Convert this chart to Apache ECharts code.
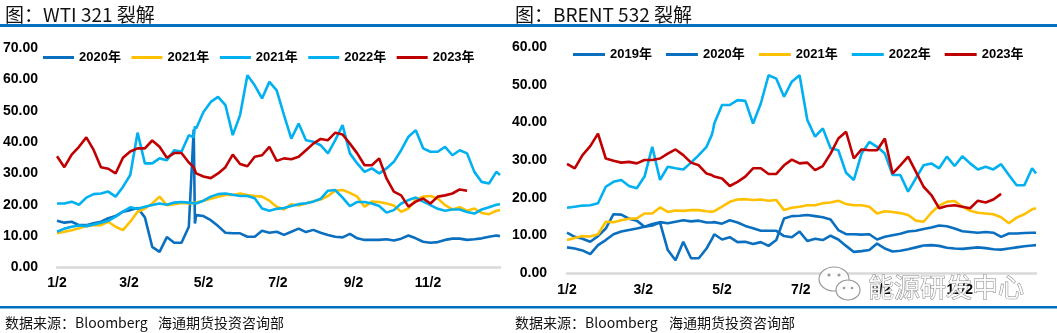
<!DOCTYPE html>
<html><head><meta charset="utf-8">
<script src="https://cdn.jsdelivr.net/npm/echarts@6/dist/echarts.min.js"></script>
<style>html,body{margin:0;padding:0;background:#fff}#c{width:1057px;height:333px}</style>
</head><body><div id="c"></div>
<script>
// day of year (Jan 1 = 0)
const days = [1,7,13,19,25,31,37,43,49,55,61,67,73,79,85,91,97,103,109,113,114,
  115,121,127,133,139,145,151,157,163,169,175,181,187,193,199,205,211,217,223,229,235,
  241,247,253,259,265,271,277,283,289,295,301,307,313,319,325,331,337,343,349,355,361,364];
const tickDays = [1,60,121,182,244,305];
const tickLabels = ['1/2','3/2','5/2','7/2','9/2','11/2'];

// WTI 321 crack
const wti2020 = [14.9,14.3,14.6,13.5,13.5,14.1,14.6,15.7,16.4,17.8,18.3,19,16,6.6,5,9.7,7.9,7.9,13,44,14,
  16.7,16.4,15.1,13.2,11.1,10.9,10.9,9.8,9.8,11.7,11.1,11.4,10.4,11.4,12.4,11.3,12,11.1,10.4,9.8,9.6,10.7,9.3,8.8,8.8,8.8,9,8.6,9.2,10.2,9.3,8.2,7.9,8.1,8.8,9.2,9.2,8.8,9,9.3,9.8,10.2,10];
const wti2021 = [10.9,11.4,11.9,12.5,13.2,13.5,13.5,14.6,13,11.9,14.6,17.8,18.8,20.4,22.6,19.9,20.2,20.6,20.4,20.6,20.6,
  20.7,21.3,21.9,22.6,23.1,23.1,23.6,23.1,22.8,22.6,21.3,19.4,18.5,20.2,19.8,20.4,21.1,21.7,22.8,24.5,24.7,23.8,22.6,19.4,21,20.9,20.4,19.8,17.8,18.8,21.7,22.6,22.8,22,19.9,18.5,19.2,18.1,18.8,17.4,17,18.1,18.3];
const wti2021b = [11.4,12.4,13,13.4,13.2,13.7,14.3,14.9,16.2,17.8,19.2,18.7,19.4,19.9,20.4,20,20.7,20.9,20.7,20.5,20.5,
  20.4,21.3,22.6,23.4,23.6,23.2,22.8,22.8,22.1,18.8,18.1,18.7,19,19.6,20.2,20.5,21,21.9,24.5,24.7,22.3,19.6,20.9,20.9,20.4,19.6,17.5,18.3,20.4,21.5,22.3,21,19.9,18.7,18.1,18.5,18.5,17.7,17.2,18.5,19.2,20,20.2];
const wti2022 = [20.4,20.4,21,20,22.3,23.4,23.6,24.2,22.6,25.7,29.5,43,33.2,33.2,34.8,34.2,37.4,36.9,42.2,41.5,45,
  44.3,49.6,52.8,54.4,51.8,42.2,48.6,61.3,58.1,53.9,59.2,56.5,48.6,41.1,45.9,40.6,40.1,39,36.4,40.6,45.4,36.4,33.2,30.5,31.6,30,31.6,33.7,37.4,41.7,43.8,38,36.9,36.9,38.5,35.8,37.4,36.4,30.5,27.3,26.8,30.5,29.5];
const wti2023 = [35.5,32,36,38.5,41.5,37.5,32,31.5,30,35,37,38,38,40.5,38.5,35,36.5,36.5,33.5,32,31.5,
  30,29,28.5,30,32,36,33,32.3,35.3,35.8,38.5,34,34.8,34.5,35.3,37.4,39.5,41,40.6,43,42.4,39.5,36.4,32.6,32.6,34.8,28.4,24.2,23,19.4,21,22,20.4,22.6,23,23.6,24.9,24.5,null,null,null,null,null];

// BRENT 532 crack
const brent2019 = [6.8,6.5,6,5,7.4,8.75,10.3,11,11.4,11.8,12.3,13,13.5,13.2,13.6,14,13.7,13.9,13.4,13.4,13.4,
  13.5,13.1,14,13.4,12.5,11.9,11.2,11.2,11.2,9.8,9.5,11,8.5,9.1,8.75,9.9,8.9,7.2,5.6,5.8,6.1,7.8,6.5,5.7,5.9,6.3,6.8,7.3,7.4,7.2,6.7,6.5,6.4,6.6,6.8,6.6,6.3,6.2,6.5,6.8,7.1,7.3,7.4];
const brent2020 = [10.7,9.6,9.1,8.3,9.8,11.8,15.6,15.5,14.4,13.9,12.3,12.6,13.4,6.1,3.4,8.3,3.9,3.9,6.5,8.9,9.6,
  10.3,8.9,9.5,8.2,8.3,7.7,8.2,7.2,8.75,14.5,15.1,15.2,15.4,15.1,14.8,14.2,11.4,10.3,10.3,10.2,10.3,8.9,9.6,10,10.4,11,11.2,11.7,12.1,12.6,12.4,11.8,11.1,10.9,10.7,10.9,10.7,9.6,10.5,10.5,10.6,10.7,10.7];
const brent2021 = [8.75,9.3,9.8,9.7,10.3,13.6,13.5,14,14.4,14.5,15.8,15.8,17.4,16.2,16.6,16.5,16.7,16.7,16.4,16.3,16.3,
  16.4,17.6,18.9,19.5,19.6,19.4,19.5,19.2,19.4,16.7,17.3,17.6,18,18,18.5,18.7,19.2,18.3,18,18,17.6,15.8,16.4,16.2,15.9,15.4,13.9,13.6,16,17.9,18.9,19.1,17.6,16.5,16,15.8,15.6,14.8,13.2,14.7,15.6,16.9,17.2];
const brent2022 = [17.3,17.6,17.9,18,18.5,22.9,24.2,24.7,23.1,22.5,25.6,33.5,24.7,28.2,27.8,27.5,29.3,31.3,33.5,36.6,37.9,
  39.7,44.6,44.6,45.9,45.7,39.7,45,52.5,51.6,46.8,50.8,52.5,40.6,36.2,38.4,33.1,32.6,26.6,24.7,31.7,34.8,33.5,31.7,26,26,21.6,25.1,28.6,29.1,27.8,30.9,28.4,31,29.1,27.5,28.2,27.5,28.9,26,23.3,23.3,27.8,26.4];
const brent2023 = [29,27.8,31.3,33.7,37,30.4,29.8,29.3,29.5,29.1,30,30,30.4,31.7,32.8,31.3,29.3,28.6,26.4,26,25.7,
  25.6,25.1,23.1,24.2,25.6,27.8,27.8,26.3,26.3,28.6,30.1,29.1,29.3,27.3,28.4,31.7,35.7,37.5,30.4,32.8,32.6,32.6,35.7,26.4,28.6,30.9,26.9,22.9,20.7,17.2,17.8,18,17.6,17.2,19.2,18.7,19.5,21,null,null,null,null,null];

const DARK = '#0B6FBF', YEL = '#FFC000', LB = '#00B0F0', RED = '#C00000';
const FONT = '"Liberation Sans", Arial, "Noto Sans CJK SC", sans-serif';
const CJK = '"Noto Sans CJK SC", "Liberation Sans", sans-serif';

const chart = echarts.init(document.getElementById('c'), null, {renderer: 'canvas'});

function mk(name, arr, color, idx) {
  return {
    name: name, type: 'line', xAxisIndex: idx, yAxisIndex: idx,
    data: days.map((d, i) => [d, arr[i]]),
    showSymbol: false, symbol: 'none', connectNulls: false,
    lineStyle: {width: 2.6, color: color}, itemStyle: {color: color},
    silent: true, animation: false
  };
}

function xAx(idx, margin) {
  return {
    gridIndex: idx, type: 'value', min: 1, max: 364,
    splitLine: {show: false}, axisTick: {show: false},
    axisLine: {show: true, lineStyle: {color: '#D9D9D9', width: 2.5}},
    axisLabel: {
      customValues: tickDays,
      formatter: v => tickLabels[tickDays.indexOf(v)],
      margin: margin, fontSize: 14, fontWeight: 'bold', color: '#000', fontFamily: FONT
    }
  };
}
function yAx(idx, max, margin) {
  return {
    gridIndex: idx, type: 'value', min: 0, max: max, interval: 10,
    splitLine: {show: false}, axisTick: {show: false}, axisLine: {show: false},
    axisLabel: {formatter: v => v.toFixed(2), margin: margin, fontSize: 14, fontWeight: 'bold', color: '#000', fontFamily: FONT}
  };
}
const legendText = {fontSize: 13, fontWeight: 'bold', color: '#000', fontFamily: FONT};

chart.setOption({
  animation: false,
  backgroundColor: '#fff',
  grid: [
    {left: 57, top: 48, width: 443, height: 219.5},
    {left: 567, top: 47, width: 469, height: 226}
  ],
  xAxis: [xAx(0, 9), xAx(1, 10)],
  yAxis: [yAx(0, 70, 19), yAx(1, 60, 20)],
  legend: [
    {data: ['2020年', '2021年', '2021年 ', '2022年', '2023年'], left: 43, top: 51, padding: 0,
     itemWidth: 31, itemHeight: 3, itemGap: 10.5, icon: 'rect', textStyle: legendText,
     formatter: n => n.trim(), selectedMode: false},
    {data: ['2019年', '2020年', '2021年', '2022年', '2023年'], left: 573, top: 48, padding: 0,
     itemWidth: 32, itemHeight: 3, itemGap: 14, icon: 'rect', textStyle: legendText,
     selectedMode: false}
  ],
  series: [
    mk('2020年', wti2020, DARK, 0),
    mk('2021年', wti2021, YEL, 0),
    mk('2021年 ', wti2021b, LB, 0),
    mk('2022年', wti2022, LB, 0),
    mk('2023年', wti2023, RED, 0),
    mk('2019年', brent2019, DARK, 1),
    mk('2020年', brent2020, DARK, 1),
    mk('2021年', brent2021, YEL, 1),
    mk('2022年', brent2022, LB, 1),
    mk('2023年', brent2023, RED, 1)
  ],
  graphic: [
    {type: 'text', x: 5, y: 15, style: {text: '图：WTI 321 裂解', fontSize: 19, fontFamily: CJK, fill: '#111', verticalAlign: 'middle'}},
    {type: 'text', x: 515, y: 15, style: {text: '图：BRENT 532 裂解', fontSize: 19, fontFamily: CJK, fill: '#111', verticalAlign: 'middle'}},
    {type: 'rect', shape: {x: 0, y: 24, width: 1057, height: 3}, style: {fill: '#0070C0'}},
    {type: 'rect', shape: {x: 0, y: 306, width: 1057, height: 2.5}, style: {fill: '#0070C0'}},
    {type: 'text', x: 5, y: 323, style: {text: '数据来源：Bloomberg', fontSize: 14, fontFamily: CJK, fill: '#111', verticalAlign: 'middle'}},
    {type: 'text', x: 158, y: 323, style: {text: '海通期货投资咨询部', fontSize: 14, fontFamily: CJK, fill: '#111', verticalAlign: 'middle'}},
    {type: 'text', x: 515, y: 323, style: {text: '数据来源：Bloomberg', fontSize: 14, fontFamily: CJK, fill: '#111', verticalAlign: 'middle'}},
    {type: 'text', x: 669, y: 323, style: {text: '海通期货投资咨询部', fontSize: 14, fontFamily: CJK, fill: '#111', verticalAlign: 'middle'}},
    // watermark
    {type: 'ellipse', shape: {cx: 834, cy: 279, rx: 15, ry: 12}, style: {fill: 'rgba(255,255,255,0.85)', stroke: '#9a9a9a', lineWidth: 1.2}, z: 100},
    {type: 'ellipse', shape: {cx: 848, cy: 290, rx: 12, ry: 10}, style: {fill: 'rgba(255,255,255,0.9)', stroke: '#9a9a9a', lineWidth: 1.2}, z: 101},
    {type: 'circle', shape: {cx: 829, cy: 275, r: 1.6}, style: {fill: '#9a9a9a'}, z: 102},
    {type: 'circle', shape: {cx: 839, cy: 275, r: 1.6}, style: {fill: '#9a9a9a'}, z: 102},
    {type: 'circle', shape: {cx: 844, cy: 288, r: 1.3}, style: {fill: '#9a9a9a'}, z: 102},
    {type: 'circle', shape: {cx: 852, cy: 288, r: 1.3}, style: {fill: '#9a9a9a'}, z: 102},
    {type: 'text', x: 868, y: 287, z: 103, style: {text: '能源研发中心', fontSize: 26, fontFamily: CJK, fill: 'rgba(255,255,255,0.9)', stroke: '#8a8a8a', lineWidth: 1, verticalAlign: 'middle'}}
  ]
});
</script>
</body></html>
